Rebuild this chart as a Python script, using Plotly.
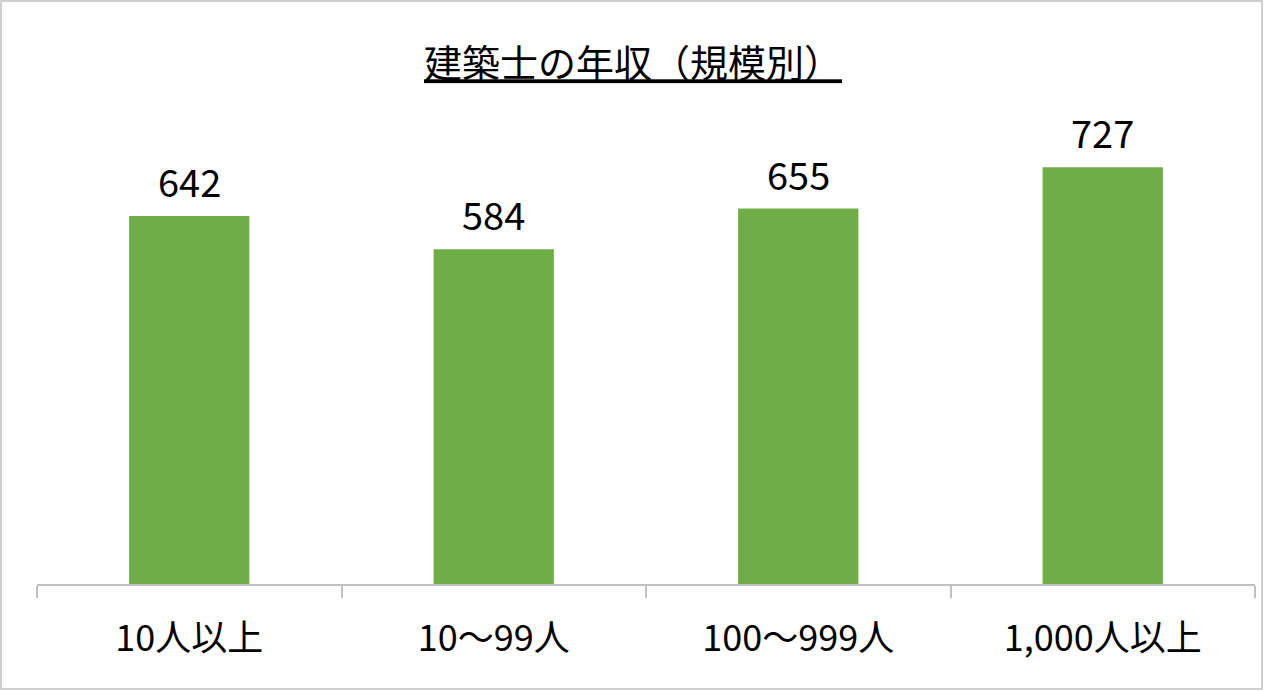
import plotly.graph_objects as go

categories = ["10人以上", "10～99人", "100～999人", "1,000人以上"]
values = [642, 584, 655, 727]
title_text = "建築士の年収（規模別）"

W, H = 1266, 691
L, R, T, B = 37, 11, 100, 107
pw, ph = W - L - R, H - T - B

def px_x(p):
    return (p - L) / pw

def px_y(p):
    return (H - B - p) / ph

FONT = "Noto Sans CJK JP"

fig = go.Figure(go.Bar(
    x=categories, y=values,
    marker=dict(color="#70AD47", line=dict(width=0)),
    width=0.395,
))

for c, v in zip(categories, values):
    fig.add_annotation(x=c, y=v, text=str(v), showarrow=False,
                       yanchor="bottom", yshift=6,
                       font=dict(family=FONT, size=38, color="#000000"))

fig.add_shape(type="rect", xref="paper", yref="paper",
              x0=px_x(1), x1=px_x(1262), y0=px_y(689), y1=px_y(1),
              line=dict(color="#BFBFBF", width=1.5), layer="below")

fig.update_layout(
    width=W, height=H,
    margin=dict(l=L, r=R, t=T, b=B),
    paper_bgcolor="white", plot_bgcolor="white",
    showlegend=False,
    title=dict(text="<u>" + title_text + "</u>", x=0.5, xanchor="center",
               y=1 - 64 / H, yanchor="middle",
               font=dict(family=FONT, size=38, color="#000000")),
    bargap=0.605,
    xaxis=dict(showline=True, linecolor="#BFBFBF", linewidth=1.5,
               ticks="outside", tickson="boundaries", ticklen=12,
               tickcolor="#BFBFBF", tickwidth=1.5,
               ticklabelstandoff=22,
               tickfont=dict(family=FONT, size=36, color="#000000"),
               showgrid=False),
    yaxis=dict(range=[0, 844.4], visible=False, showgrid=False),
)

fig.write_html("out.html",
               config={"displayModeBar": False},
               post_script="document.body.style.margin='0';document.body.style.overflow='hidden';")
